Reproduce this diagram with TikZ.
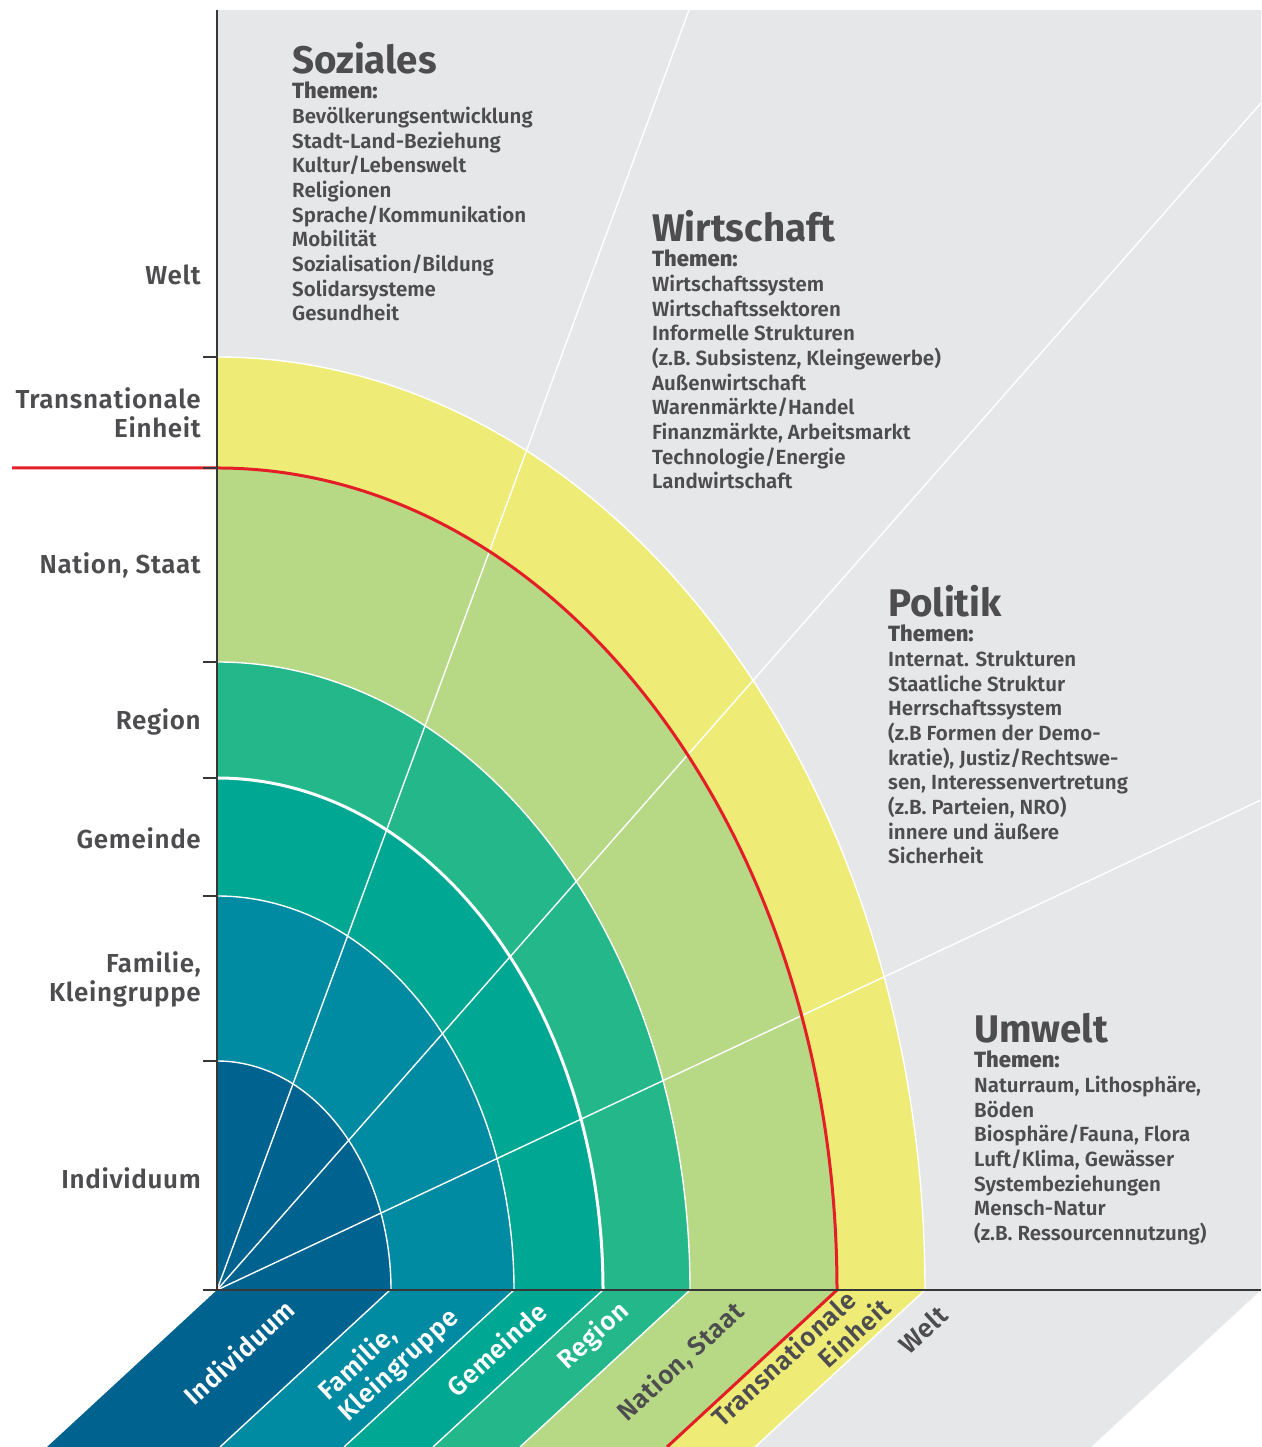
\documentclass[tikz,border=0pt]{standalone}
\usepackage{fontspec}
\setmainfont{Fira Sans}
\IfFontExistsTF{FiraSans-SemiBold.otf}{\newfontfamily\semib{FiraSans-SemiBold.otf}[LetterSpace=2.5]}{\newfontfamily\semib{Fira Sans SemiBold}[LetterSpace=2.5]}
\IfFontExistsTF{FiraSans-Medium.otf}{\newfontfamily\medf{FiraSans-Medium.otf}}{\newfontfamily\medf{Fira Sans Medium}}
\IfFontExistsTF{FiraSans-Book.otf}{\newfontfamily\lightf{FiraSans-Book.otf}}{\newfontfamily\lightf{Fira Sans Light}}
\definecolor{tgray}{RGB}{77,77,79}
\definecolor{axc}{RGB}{55,55,55}
\definecolor{bggray}{RGB}{230,231,233}
\definecolor{cInd}{RGB}{0,98,143}
\definecolor{cFam}{RGB}{0,139,163}
\definecolor{cGem}{RGB}{0,168,147}
\definecolor{cReg}{RGB}{35,183,138}
\definecolor{cNat}{RGB}{183,217,133}
\definecolor{cTra}{RGB}{238,236,119}
\definecolor{cRed}{RGB}{228,30,38}
\newcommand\headf{\bfseries\fontsize{38.5}{24.7}\selectfont}
\newcommand\themf{\medf\fontsize{22}{24.7}\selectfont}
\newcommand\bodyf{\lightf\fontsize{20.5}{24.7}\selectfont}
\begin{document}
\begin{tikzpicture}[x=1pt,y=1pt,
  ringline/.style={white, line width=1.4pt},
  radline/.style={white, line width=1.4pt},
  axisline/.style={draw=axc, line width=1.8pt},
  redline/.style={draw=cRed, line width=3pt, line join=round},
  lbl/.style={font=\semib\fontsize{26}{29}\selectfont, text=tgray, inner sep=0pt},
  blbl/.style={lbl, rotate=42.7, align=center},
  blk/.style={anchor=base west, inner sep=0pt, text=tgray}]
\useasboundingbox (0,0) rectangle (1261,1447);
\coordinate (O) at (217,157);
% background
\fill[bggray] (217,157) rectangle (1261,1437);
% ring fills
\foreach \rx/\ry/\c in {708/933/cTra, 620/822/cNat, 473/628/cReg, 386/512/cGem, 297/394/cFam, 174/229/cInd}
  \fill[\c] (O) -- ++(\rx,0) arc[start angle=0, end angle=90, x radius=\rx pt, y radius=\ry pt] -- cycle;
% bottom stripes
\foreach \a/\b/\c in {217/390/cInd, 390/514/cFam, 514/603/cGem, 603/690/cReg, 690/837/cNat, 837/925/cTra, 925/1261/bggray}
  \fill[\c] (\a,157) -- (\b,157) -- (\b-170,0) -- (\a-170,0) -- cycle;
\foreach \a in {390,514,603,690,925}
  \draw[ringline] (\a,157) -- (\a-170,0);
% radial lines
\coordinate (L1) at (689,1437);
\coordinate (L2) at (1261,1344);
\coordinate (L3) at (1261,647);
\draw[radline] (O) -- (L1);
\draw[radline] (O) -- (L2);
\draw[radline] (O) -- (L3);
% ring outlines
\foreach \rx/\ry in {708/933, 473/628, 297/394, 174/229}
  \draw[ringline] (O) ++(\rx,0) arc[start angle=0, end angle=90, x radius=\rx pt, y radius=\ry pt];
\draw[white, line width=3pt] (O) ++(386,0) arc[start angle=0, end angle=90, x radius=386pt, y radius=512pt];
% red line
\coordinate (redS) at (667,0);
\coordinate (natBot) at (837,157);
\coordinate (redL) at (12,979);
\draw[redline] (redS) -- (natBot) arc[start angle=0, end angle=90, x radius=620pt, y radius=822pt] -- (redL);
% axes
\coordinate (axTop) at (217,1437);
\coordinate (axR) at (1261,157);
\coordinate (axL) at (203,157);
\draw[axisline] (axTop) -- (O);
\draw[axisline] (axL) -- (axR);
\foreach \y in {1090,979,785,669,551,386}
  \draw[axisline, line width=1.5pt] (203,\y) -- (217,\y);
% left labels
\node[lbl, anchor=east] (lWelt) at (201,1172) {Welt};
\node[lbl, anchor=east, align=right] (lTra) at (201,1034) {Transnationale\\Einheit};
\node[lbl, anchor=east] (lNat) at (201,882) {Nation, Staat};
\node[lbl, anchor=east] (lReg) at (201,725) {Region};
\node[lbl, anchor=east] (lGem) at (201,609) {Gemeinde};
\node[lbl, anchor=east, align=right] (lFam) at (201,468) {Familie,\\Kleingruppe};
\node[lbl, anchor=east] (lInd) at (201,269) {Individuum};
% bottom labels
\node[blbl, text=white] (bInd) at (239,95) {Individuum};
\node[blbl, text=white, align=left] (bFam) at (389,92) {Familie,\\Kleingruppe};
\node[blbl, text=white] (bGem) at (496,98) {Gemeinde};
\node[blbl, text=white] (bReg) at (594,111) {Region};
\node[blbl] (bNat) at (681,85) {Nation, Staat};
\node[blbl, align=right] (bTra) at (793,78) {Transnationale\\Einheit\hspace*{-20pt}};
\node[blbl] (bWelt) at (923,117) {Welt};
% text blocks
\node[blk] (soz) at (292,1373) {\parbox[t]{400pt}{\raggedright\headf Soziales\\
  \themf Themen:\\ \bodyf Bevölkerungsentwicklung\\ Stadt-Land-Beziehung\\ Kultur/Lebenswelt\\ Religionen\\ Sprache/Kommunikation\\ Mobilität\\ Sozialisation/Bildung\\ Solidarsysteme\\ Gesundheit}};
\node[blk] (wir) at (652,1205) {\parbox[t]{400pt}{\raggedright\headf Wirtschaft\\
  \themf Themen:\\ \bodyf Wirtschaftssystem\\ Wirtschaftssektoren\\ Informelle Strukturen\\ (z.B. Subsistenz, Kleingewerbe)\\ Außenwirtschaft\\ Warenmärkte/Handel\\ Finanzmärkte, Arbeitsmarkt\\ Technologie/Energie\\ Landwirtschaft}};
\node[blk] (pol) at (888,830) {\parbox[t]{400pt}{\raggedright\headf Politik\\
  \themf Themen:\\ \bodyf Internat. Strukturen\\ Staatliche Struktur\\ Herrschaftssystem\\ (z.B Formen der Demo-\\ kratie), Justiz/Rechtswe-\\ sen, Interessenvertretung\\ (z.B. Parteien, NRO)\\ innere und äußere\\ Sicherheit}};
\node[blk] (umw) at (974,404) {\parbox[t]{400pt}{\raggedright\headf Umwelt\\
  \themf Themen:\\ \bodyf Naturraum, Lithosphäre,\\ Böden\\ Biosphäre/Fauna, Flora\\ Luft/Klima, Gewässer\\ Systembeziehungen\\ Mensch-Natur\\ (z.B. Ressourcennutzung)}};
\end{tikzpicture}
\end{document}
